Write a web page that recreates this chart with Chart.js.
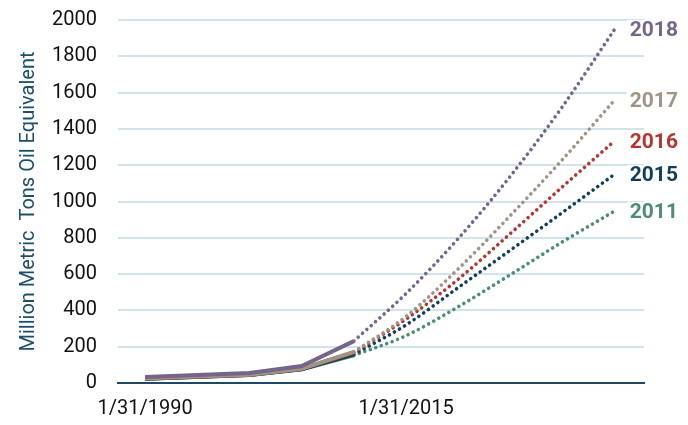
<!DOCTYPE html>
<html>
<head>
<meta charset="utf-8">
<script src="https://cdn.jsdelivr.net/npm/chart.js@4.4.0/dist/chart.umd.min.js"></script>
<style>
  html, body { margin: 0; padding: 0; background: #fff; }
  #wrap { width: 688px; height: 425px; position: relative; }
</style>
</head>
<body>
<div id="wrap"><canvas id="grafico"></canvas></div>
<script>
// historical (solid) and outlook (dotted) values, Mtoe
var histYears = [1990, 2000, 2005, 2010];
var projYears = [2010, 2015, 2020, 2025, 2030, 2035];
var xTickYears = [1990, 2015];
var outlooks = ['2018', '2017', '2016', '2015', '2011'];
var colores = ['#76658a', '#a09484', '#b8352e', '#0f3f5d', '#4c8d75'];

var hist2018 = [33, 55, 94, 231];
var hist2017 = [26, 46, 79, 171];
var hist2016 = [25, 45, 78, 168];
var hist2015 = [24, 44, 76, 158];
var hist2011 = [24, 44, 76, 152];

var proy2018 = [231, 493, 796, 1140, 1524, 1950];
var proy2017 = [171, 367, 629, 923, 1232, 1560];
var proy2016 = [168, 352, 572, 824, 1082, 1335];
var proy2015 = [158, 320, 526, 732, 940, 1151];
var proy2011 = [152, 261, 420, 597, 778, 948];

var yTicks = [0, 200, 400, 600, 800, 1000, 1200, 1400, 1600, 1800, 2000];

var historicos = [hist2018, hist2017, hist2016, hist2015, hist2011];
var proyecciones = [proy2018, proy2017, proy2016, proy2015, proy2011];

function puntos(xs, ys) {
    var out = [];
    for (var i = 0; i < xs.length; i++) {
        out.push({ x: xs[i], y: ys[i] });
    }
    return out;
}

var datasets = [];
for (var i = 0; i < outlooks.length; i++) {
    datasets.push({
        label: outlooks[i] + ' hist',
        data: puntos(histYears, historicos[i]),
        borderColor: colores[i],
        borderWidth: 4,
        pointRadius: 0,
        order: i
    });
}
for (var i = 0; i < outlooks.length; i++) {
    datasets.push({
        label: outlooks[i],
        data: puntos(projYears, proyecciones[i]),
        borderColor: colores[i],
        borderWidth: 3.6,
        borderDash: [0.01, 5.8],
        borderCapStyle: 'round',
        cubicInterpolationMode: 'monotone',
        pointRadius: 0,
        order: 10 + i,
        isProj: true
    });
}

// year labels at the end of each dotted line
const etiquetasFin = {
    id: 'etiquetasFin',
    afterDatasetsDraw(chart) {
        var ctx = chart.ctx;
        ctx.save();
        ctx.font = 'bold 21px Roboto';
        ctx.textBaseline = 'middle';
        ctx.textAlign = 'left';
        chart.data.datasets.forEach(function (ds, idx) {
            if (!ds.isProj) return;
            var meta = chart.getDatasetMeta(idx);
            var last = meta.data[meta.data.length - 1];
            var x = last.x + 15;
            var y = last.y + 2;
            var w = ctx.measureText(ds.label).width;
            ctx.fillStyle = '#fff';
            ctx.fillRect(x - 3, y - 11, w + 6, 22);
            ctx.fillStyle = ds.borderColor;
            ctx.fillText(ds.label, x, y);
        });
        ctx.restore();
    }
};

new Chart(document.getElementById('grafico'), {
    type: 'line',
    data: { datasets: datasets },
    options: {
        responsive: true,
        maintainAspectRatio: false,
        animation: false,
        layout: { autoPadding: false, padding: { top: 20, right: 44, bottom: 0, left: 0 } },
        plugins: { legend: { display: false }, tooltip: { enabled: false } },
        scales: {
            x: {
                type: 'linear',
                min: 1987.4,
                max: 2037.8,
                afterBuildTicks: function (scale) {
                    scale.ticks = xTickYears.map(function (v) { return { value: v }; });
                },
                afterFit: function (scale) {
                    scale.height = 42;
                    scale.paddingLeft = 0;
                    scale.paddingRight = 0;
                },
                ticks: {
                    autoSkip: false,
                    maxRotation: 0,
                    padding: 14,
                    color: '#111',
                    font: { family: 'Roboto', size: 20 },
                    callback: function (v) { return '1/31/' + v; }
                },
                grid: { display: false, drawTicks: false },
                border: { display: true, color: '#1d4a66', width: 2 }
            },
            y: {
                min: 0,
                max: 2000,
                afterBuildTicks: function (scale) {
                    scale.ticks = yTicks.map(function (v) { return { value: v }; });
                },
                afterFit: function (scale) {
                    scale.width = 118;
                    scale.paddingTop = 0;
                    scale.paddingBottom = 0;
                },
                ticks: {
                    padding: 21,
                    color: '#111',
                    font: { family: 'Roboto', size: 20 },
                    callback: function (v) { return String(v); }
                },
                grid: { color: '#d2e3ec', lineWidth: 2, drawTicks: false },
                border: { display: false },
                title: {
                    display: true,
                    text: 'Million Metric  Tons Oil Equivalent',
                    color: '#1b4f6e',
                    font: { family: 'Roboto', size: 20 },
                    padding: { top: 17, bottom: 0 }
                }
            }
        }
    },
    plugins: [etiquetasFin]
});
</script>
</body>
</html>
